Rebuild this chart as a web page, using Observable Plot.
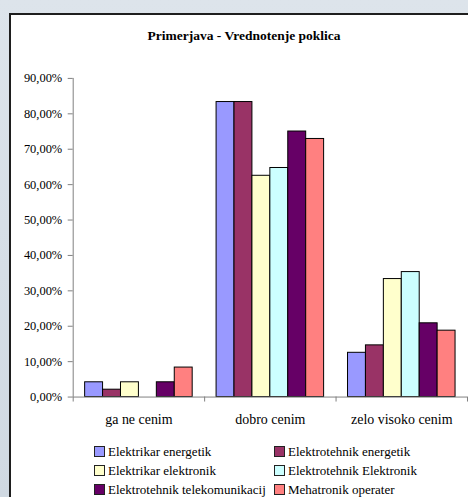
<!DOCTYPE html>
<html>
<head>
<meta charset="utf-8">
<script src="https://cdn.jsdelivr.net/npm/d3@7"></script>
<script src="https://cdn.jsdelivr.net/npm/@observablehq/plot@0.6"></script>
<style>
html, body { margin: 0; padding: 0; width: 468px; height: 497px; overflow: hidden; }
body { position: relative; background: linear-gradient(#dde4eb, #d0d9e2); font-family: "Liberation Serif", "Times New Roman", Times, "DejaVu Serif", serif; color: #000; }
#panel { position: absolute; left: 9px; top: 13px; width: 480px; height: 500px; background: #fff; border-left: 2px solid #1e1e1e; border-top: 2px solid #1e1e1e; }
#title { position: absolute; left: 0; width: 488px; top: 28px; text-align: center; font-weight: bold; font-size: 13.5px; line-height: 15px; }
#chart { position: absolute; left: 0; top: 60px; }
#legend { position: absolute; left: 94px; top: 442px; display: grid; grid-template-columns: 180px 180px; grid-auto-rows: 19px; }
.item { display: flex; align-items: center; white-space: nowrap; font-size: 13px; line-height: 15px; }
.sw { width: 11px; height: 11px; box-sizing: border-box; border: 1px solid #222; margin-right: 3px; flex: none; }
</style>
</head>
<body>
<div id="panel"></div>
<div id="title">Primerjava - Vrednotenje poklica</div>
<div id="chart"></div>
<div id="legend"></div>
<script>
const categories = ["ga ne cenim", "dobro cenim", "zelo visoko cenim"];
const series = [
  "Elektrikar energetik",
  "Elektrotehnik energetik",
  "Elektrikar elektronik",
  "Elektrotehnik Elektronik",
  "Elektrotehnik telekomunikacij",
  "Mehatronik operater"
];
const colors = ["#9999ff", "#993366", "#ffffcc", "#ccffff", "#660066", "#ff8080"];

// values per series, in category order
const elektrikarEnergetik = [0.0417, 0.8333, 0.125];
const elektrotehnikEnergetik = [0.0208, 0.8333, 0.146];
const elektrikarElektronik = [0.0417, 0.625, 0.3333];
const elektrotehnikElektronik = [0, 0.647, 0.353];
const elektrotehnikTelekom = [0.0417, 0.75, 0.2083];
const mehatronikOperater = [0.0833, 0.729, 0.1875];
const seriesValues = [elektrikarEnergetik, elektrotehnikEnergetik, elektrikarElektronik,
  elektrotehnikElektronik, elektrotehnikTelekom, mehatronikOperater];

const yTicks = [0, 0.1, 0.2, 0.3, 0.4, 0.5, 0.6, 0.7, 0.8, 0.9];
const yTickLabels = ["0,00%", "10,00%", "20,00%", "30,00%", "40,00%", "50,00%", "60,00%", "70,00%", "80,00%", "90,00%"];

const data = [];
seriesValues.forEach((vals, si) => vals.forEach((v, ci) => {
  data.push({series: series[si], si, category: categories[ci], ci, value: v});
}));

const n = series.length;
const outerPad = 2 / 3;
const slot = 1 / (n + 2 * outerPad);
const bx1 = d => d.ci + (d.si + outerPad) * slot;
const bx2 = d => d.ci + (d.si + 1 + outerPad) * slot;

const boundaries = d3.range(categories.length + 1);
const centers = categories.map((c, i) => i + 0.5);

const serif = "'Liberation Serif', 'Times New Roman', Times, 'DejaVu Serif', serif";

const chart = Plot.plot({
  width: 470,
  height: 380,
  marginLeft: 73,
  marginRight: 1,
  marginTop: 18,
  marginBottom: 42,
  style: {fontFamily: serif, fontSize: "12px", color: "#000", background: "transparent", overflow: "visible"},
  x: {domain: [0, categories.length], label: null},
  y: {domain: [0, 0.9], label: null},
  color: {domain: series, range: colors},
  marks: [
    Plot.rectY(data.filter(d => d.value > 0), {
      x1: bx1, x2: bx2, y: "value", fill: "series", stroke: "#000", strokeWidth: 1
    }),
    Plot.ruleY([0], {stroke: "#808080"}),
    Plot.ruleX([0], {stroke: "#808080"}),
    Plot.axisY({ticks: yTicks, tickFormat: d => yTickLabels[yTicks.indexOf(d)], tickSize: 5, tickPadding: 6, stroke: "#808080", fill: "#000", label: null, fontSize: 12.5, fontFamily: serif}),
    Plot.axisX({ticks: boundaries, tickFormat: () => "", tickSize: 5, stroke: "#808080", label: null}),
    Plot.axisX({ticks: centers, tickFormat: d => categories[Math.floor(d)], tickSize: 0, tickPadding: 17, fill: "#000", label: null, fontSize: 14, fontFamily: serif})
  ]
});
document.getElementById("chart").appendChild(chart);

const legend = document.getElementById("legend");
series.forEach((s, i) => {
  const item = document.createElement("div");
  item.className = "item";
  const sw = document.createElement("span");
  sw.className = "sw";
  sw.style.background = colors[i];
  const label = document.createElement("span");
  label.textContent = s;
  item.appendChild(sw);
  item.appendChild(label);
  legend.appendChild(item);
});
</script>
</body>
</html>
